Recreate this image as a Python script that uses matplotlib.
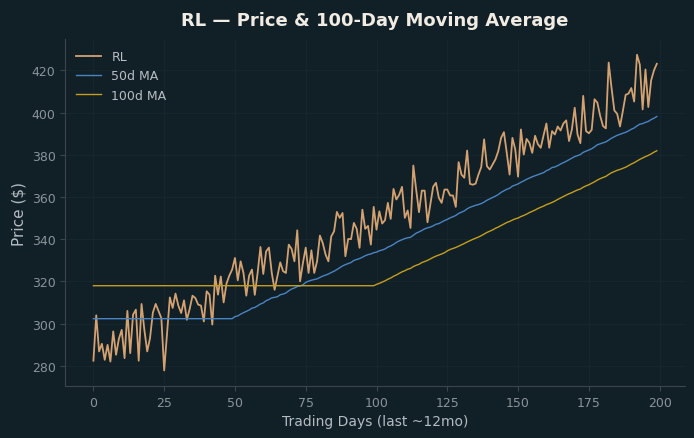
import numpy as np
import pandas as pd
import matplotlib
matplotlib.use("Agg")
import matplotlib.pyplot as plt

# RL closing prices, last 200 trading days
prices = [
    282.4, 303.9, 286.8, 290.4, 282.8, 289.9, 282.0, 296.3, 285.2, 292.8,
    297.0, 283.6, 306.0, 286.0, 304.2, 306.6, 282.4, 309.3, 297.0, 286.8,
    293.1, 305.2, 309.3, 306.0, 302.6, 277.8, 295.0, 312.4, 307.4, 314.2,
    308.5, 305.0, 311.0, 301.8, 306.9, 313.2, 312.1, 309.0, 308.5, 301.0,
    315.3, 313.7, 299.5, 322.7, 313.7, 322.3, 310.0, 318.9, 322.7, 325.6,
    331.1, 320.5, 329.5, 324.0, 313.2, 322.7, 325.6, 313.6, 324.0, 336.3,
    323.5, 334.2, 336.0, 324.0, 316.0, 322.4, 329.0, 324.8, 324.0, 337.4,
    335.4, 329.5, 344.2, 320.0, 328.7, 336.0, 324.0, 334.7, 324.0, 329.5,
    341.7, 338.2, 332.7, 329.5, 341.3, 343.7, 352.9, 350.1, 352.4, 331.9,
    340.1, 340.0, 347.7, 344.9, 335.9, 354.0, 344.9, 346.3, 337.4, 355.3,
    344.5, 353.2, 347.4, 349.0, 357.2, 349.6, 363.8, 358.8, 361.0, 364.8,
    350.1, 353.6, 345.3, 374.9, 363.5, 352.8, 363.0, 363.0, 348.0, 356.4,
    364.8, 366.7, 359.6, 357.2, 363.5, 363.5, 360.7, 360.7, 355.3, 376.5,
    370.6, 369.1, 382.0, 366.2, 365.8, 366.3, 370.6, 374.2, 387.3, 374.6,
    373.0, 375.4, 377.8, 381.7, 388.0, 390.7, 380.9, 370.6, 388.0, 382.5,
    369.6, 392.0, 380.1, 387.5, 385.6, 380.9, 389.0, 385.0, 383.3, 389.2,
    394.8, 383.3, 391.2, 389.6, 393.4, 391.5, 394.8, 396.3, 386.5, 392.0,
    402.3, 389.6, 385.5, 407.9, 391.2, 390.2, 391.8, 406.3, 404.7, 398.4,
    393.6, 392.5, 423.7, 411.8, 401.0, 399.4, 393.4, 400.7, 408.4, 409.0,
    411.6, 405.2, 427.4, 422.7, 401.5, 420.4, 402.6, 415.3, 420.0, 423.1,
]
days = np.arange(len(prices))

s = pd.Series(prices)
ma50 = s.rolling(50).mean().bfill()
ma100 = s.rolling(100).mean().bfill()

bg = '#111f27'
fig, ax = plt.subplots(figsize=(6.94, 4.39), dpi=100)
fig.patch.set_facecolor(bg)
ax.set_facecolor(bg)
fig.subplots_adjust(left=0.094, right=0.987, bottom=0.118, top=0.909)

ax.plot(days, prices, color='#d4a271', lw=1.3, label='RL')
ax.plot(days, ma50, color='#4a84c2', lw=1.0, label='50d MA')
ax.plot(days, ma100, color='#c49e1e', lw=1.0, label='100d MA')

ax.set_title('RL \u2014 Price & 100-Day Moving Average', color='#f0ece4',
             fontsize=13, fontweight='bold', pad=10)
ax.set_xlabel('Trading Days (last ~12mo)', color='#b4bcc0', fontsize=10)
ax.set_ylabel('Price ($)', color='#b4bcc0', fontsize=11)

ax.grid(True, color='#17262e', lw=0.8)
ax.set_axisbelow(True)
for side in ['top', 'right']:
    ax.spines[side].set_visible(False)
for side in ['left', 'bottom']:
    ax.spines[side].set_color('#3a464c')
ax.tick_params(colors='#3a464c', labelcolor='#8a9498', labelsize=9)

leg = ax.legend(loc='upper left', frameon=False, fontsize=9)
for t in leg.get_texts():
    t.set_color('#b8bec2')

fig.savefig('out.png', facecolor=bg)
